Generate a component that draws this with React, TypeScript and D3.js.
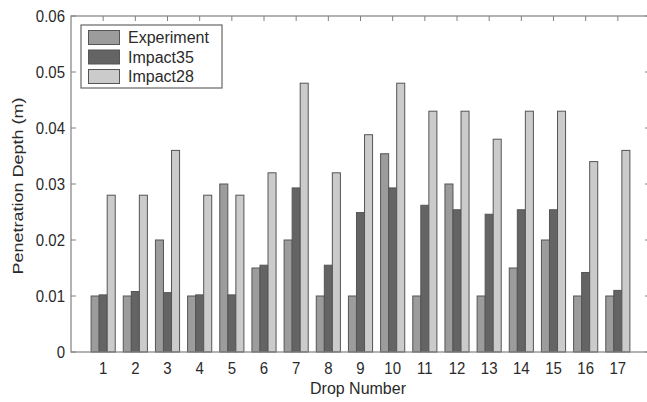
import React, { useEffect, useRef } from 'react';
import * as d3 from 'd3';

const drops = [1, 2, 3, 4, 5, 6, 7, 8, 9, 10, 11, 12, 13, 14, 15, 16, 17];
const experiment = [0.01, 0.01, 0.02, 0.01, 0.03, 0.015, 0.02, 0.01, 0.01, 0.0354, 0.01, 0.03, 0.01, 0.015, 0.02, 0.01, 0.01];
const impact35 = [0.0102, 0.0108, 0.0106, 0.0102, 0.0102, 0.0155, 0.0293, 0.0155, 0.0249, 0.0293, 0.0262, 0.0254, 0.0246, 0.0254, 0.0254, 0.0142, 0.011];
const impact28 = [0.028, 0.028, 0.036, 0.028, 0.028, 0.032, 0.048, 0.032, 0.0388, 0.048, 0.043, 0.043, 0.038, 0.043, 0.043, 0.034, 0.036];
const seriesNames = ['Experiment', 'Impact35', 'Impact28'];
const seriesColors = ['#9c9c9c', '#646464', '#cbcbcb'];
const yTicks = [0, 0.01, 0.02, 0.03, 0.04, 0.05, 0.06];

const W = 647;
const H = 402;
const left = 71;
const right = 650;
const top = 16;
const bottom = 352;
const font = '"Liberation Sans", Arial, sans-serif';
const ink = '#2a2a2a';

export default function App() {
  const ref = useRef<SVGSVGElement>(null);

  useEffect(() => {
    const svg = d3.select(ref.current);
    svg.selectAll('*').remove();

    const x = d3.scaleLinear().domain([0, 18]).range([left, right]);
    const y = d3.scaleLinear().domain([0, 0.06]).range([bottom, top]);
    const barW = 0.25;
    const series = [experiment, impact35, impact28];

    // bars, three per drop
    series.forEach((vals, s) => {
      svg.append('g')
        .selectAll('rect')
        .data(vals)
        .enter()
        .append('rect')
        .attr('x', (d, i) => x(drops[i] - 1.5 * barW + s * barW))
        .attr('width', x(barW) - x(0))
        .attr('y', d => y(d))
        .attr('height', d => y(0) - y(d))
        .attr('fill', seriesColors[s])
        .attr('stroke', '#555')
        .attr('stroke-width', 1);
    });

    // frame
    svg.append('rect')
      .attr('x', left).attr('y', top)
      .attr('width', right - left).attr('height', bottom - top)
      .attr('fill', 'none').attr('stroke', '#808080').attr('stroke-width', 1.2);

    // y ticks point inward on both sides
    const ty = svg.append('g');
    yTicks.forEach(t => {
      ty.append('line')
        .attr('x1', left).attr('x2', left + 5)
        .attr('y1', y(t)).attr('y2', y(t))
        .attr('stroke', '#808080');
      ty.append('line')
        .attr('x1', right).attr('x2', right - 5)
        .attr('y1', y(t)).attr('y2', y(t))
        .attr('stroke', '#808080');
      ty.append('text')
        .attr('transform', `translate(${left - 6},${y(t) + 6}) scale(1,1.12)`)
        .attr('text-anchor', 'end')
        .attr('font-family', font).attr('font-size', 15)
        .attr('fill', ink)
        .text(t === 0 ? '0' : d3.format('.2f')(t));
    });

    // x ticks on top, labels below
    const tx = svg.append('g');
    drops.forEach(d => {
      tx.append('line')
        .attr('x1', x(d)).attr('x2', x(d))
        .attr('y1', top).attr('y2', top + 5)
        .attr('stroke', '#808080');
      tx.append('text')
        .attr('transform', `translate(${x(d)},374) scale(1,1.12)`)
        .attr('text-anchor', 'middle')
        .attr('font-family', font).attr('font-size', 15)
        .attr('fill', ink)
        .text(String(d));
    });

    // axis titles
    svg.append('text')
      .attr('transform', 'translate(358,394) scale(1,1.08)')
      .attr('text-anchor', 'middle')
      .attr('font-family', font).attr('font-size', 16)
      .attr('fill', ink)
      .text('Drop Number');
    svg.append('text')
      .attr('transform', 'translate(23,186) rotate(-90) scale(1.2,1)')
      .attr('text-anchor', 'middle')
      .attr('font-family', font).attr('font-size', 15)
      .attr('fill', ink)
      .text('Penetration Depth (m)');

    // legend
    const lg = svg.append('g');
    lg.append('rect')
      .attr('x', 81).attr('y', 25)
      .attr('width', 141).attr('height', 63)
      .attr('fill', '#fff').attr('stroke', '#666').attr('stroke-width', 1.2);
    seriesNames.forEach((name, i) => {
      lg.append('rect')
        .attr('x', 88.5).attr('y', 30.5 + i * 19.5)
        .attr('width', 31).attr('height', 14)
        .attr('fill', seriesColors[i])
        .attr('stroke', '#555');
      lg.append('text')
        .attr('x', 128).attr('y', 43 + i * 19.5)
        .attr('font-family', font).attr('font-size', 16)
        .attr('fill', ink)
        .text(name);
    });
  }, []);

  return (
    <svg ref={ref} width={W} height={H}
      style={{ position: 'absolute', left: 0, top: 0, background: '#fff' }} />
  );
}
